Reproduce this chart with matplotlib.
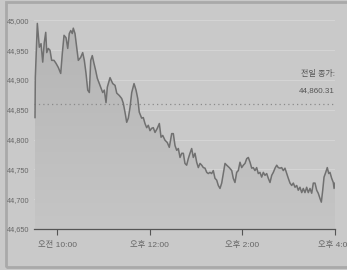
import matplotlib
matplotlib.use('Agg')
import matplotlib.pyplot as plt
from matplotlib import font_manager
import numpy as np
from matplotlib.colors import LinearSegmentedColormap
from matplotlib.patches import Polygon, Rectangle

# intraday index level, minutes after 9:30
minutes = [1.3, 1.7, 4.3, 6.9, 9.1, 11.3, 13.3, 15.2, 16.5, 18.5, 20.7, 22.9, 25.9,
           28.5, 31.5, 34.6, 36.7, 38.9, 41.5, 43.7, 45.7, 47.6, 49.6, 50.9, 53.1,
           55.3, 57.4, 60.5, 63.1, 65.2, 67.4, 69.6, 71.7, 73.5, 75.5, 77.7, 79.9,
           82.0, 85.5, 89.0, 91.1, 93.3, 95.0, 98.5, 102.0, 105.0, 107.2, 110.5,
           113.6, 115.7, 117.9, 120.1, 122.2, 124.4, 126.6, 129.6, 132.2, 134.4,
           136.4, 139.5, 141.6, 143.8, 146.0, 148.1, 150.3, 152.5, 154.6, 156.8,
           159.8, 162.4, 164.6, 166.8, 169.7, 172.7, 175.3, 178.4, 180.5, 182.7,
           184.9, 187.0, 189.2, 191.4, 193.5, 195.6, 197.8, 199.9, 202.1, 204.3,
           206.4, 208.6, 210.8, 212.9, 215.1, 217.3, 219.4, 221.6, 223.8, 225.8,
           228.0, 230.2, 232.3, 234.5, 236.7, 238.8, 241.0, 243.2, 245.3, 247.5,
           249.7, 253.0, 256.2, 258.2, 260.4, 262.6, 264.7, 266.9, 269.1, 271.2,
           273.4, 275.6, 277.7, 279.9, 282.1, 284.1, 286.3, 288.5, 290.6, 292.8,
           295.0, 297.1, 299.3, 301.5, 303.6, 305.8, 308.0, 310.1, 312.3, 314.5,
           316.5, 318.7, 320.9, 323.0, 325.2, 327.4, 329.5, 331.7, 333.9, 336.0,
           338.2, 340.4, 342.4, 344.6, 346.9, 348.9, 351.1, 353.3, 355.4, 357.6,
           359.8, 361.9, 364.1, 366.3, 368.3, 370.6, 372.3, 374.1, 375.8, 378.0,
           380.0, 381.9, 383.5, 385.7, 387.8, 388.8, 390.0]
prices = [44837, 44904, 44995, 44955, 44961, 44930, 44963, 44980, 44946, 44953, 44950,
          44933, 44933, 44928, 44921, 44911, 44945, 44975, 44971, 44953, 44978, 44983,
          44978, 44987, 44978, 44955, 44933, 44938, 44946, 44933, 44911, 44883, 44879,
          44933, 44941, 44928, 44916, 44903, 44891, 44879, 44883, 44862, 44888, 44904,
          44894, 44891, 44878, 44874, 44869, 44861, 44846, 44829, 44836, 44854, 44879,
          44894, 44883, 44869, 44846, 44836, 44837, 44827, 44820, 44824, 44815, 44819,
          44820, 44812, 44819, 44827, 44804, 44807, 44799, 44795, 44787, 44810, 44810,
          44790, 44782, 44785, 44770, 44777, 44777, 44760, 44757, 44768, 44777, 44785,
          44770, 44777, 44762, 44753, 44760, 44757, 44753, 44752, 44745, 44743, 44745,
          44743, 44748, 44735, 44732, 44723, 44718, 44727, 44743, 44760, 44757, 44753,
          44748, 44735, 44728, 44745, 44748, 44762, 44753, 44757, 44760, 44768, 44770,
          44762, 44752, 44753, 44748, 44753, 44743, 44745, 44737, 44745, 44740, 44743,
          44735, 44728, 44740, 44745, 44752, 44757, 44753, 44752, 44753, 44748, 44752,
          44743, 44735, 44727, 44723, 44727, 44720, 44723, 44715, 44720, 44711, 44718,
          44711, 44720, 44711, 44718, 44710, 44727, 44727, 44715, 44710, 44701, 44695,
          44715, 44737, 44745, 44753, 44743, 44745, 44735, 44728, 44718, 44727]
prev_close = 44860.31
yticks = [44650, 44700, 44750, 44800, 44850, 44900, 44950, 45000]
xticks = [30, 150, 270, 390]
xticklabels = ['오전 10:00', '오후 12:00', '오후 2:00', '오후 4:00']

# narrow latin font if one is installed, otherwise a smaller regular one
names = {f.name for f in font_manager.fontManager.ttflist}
narrow = [n for n in ['Liberation Sans Narrow', 'DejaVu Sans Condensed'] if n in names]
if narrow:
    latin, fs_y, fs_x, fs_t = narrow[0], 6.7, 6.7, 6.7
else:
    latin, fs_y, fs_x, fs_t = 'Liberation Sans', 5.3, 6.0, 5.8
plt.rcParams['font.family'] = [latin, 'Noto Sans CJK KR', 'DejaVu Sans']

bg = '#c9c9c9'
fig = plt.figure(figsize=(3.47, 2.70), dpi=100, facecolor=bg)
ax = fig.add_axes([0.098, 0.152, 0.8674, 0.8165], facecolor=bg)

ymin, ymax = 44650, 45020
t = np.array(minutes)
v = np.array(prices)

# gradient fill under the line
poly = Polygon(np.column_stack([np.r_[t[0], t, t[-1]], np.r_[ymin, v, ymin]]),
               closed=True, facecolor='none', edgecolor='none')
ax.add_patch(poly)
grad = np.linspace(1, 0, 256).reshape(-1, 1)
cmap = LinearSegmentedColormap.from_list('g', ['#c5c5c5', '#b5b5b5'])
im = ax.imshow(grad, extent=[0, 390, ymin, v.max()], aspect='auto', cmap=cmap,
               zorder=1, interpolation='bilinear')
im.set_clip_path(poly)

for y in yticks[1:]:
    ax.axhline(y, color='#d4d4d4', lw=0.8, zorder=0.5)

ax.plot(t, v, color='#707070', lw=1.1, zorder=3)
ax.axhline(prev_close, color='#8a8a8a', lw=0.9, ls=(0, (1, 2.5)), zorder=2)

ax.text(390, 44910, '전일 종가:', ha='right', va='center', fontsize=fs_t, color='#555555')
ax.text(390, 44882, f'{prev_close:,.2f}', ha='right', va='center', fontsize=fs_t,
        color='#555555')

ax.set_xlim(0, 390)
ax.set_ylim(ymin, ymax)
ax.set_yticks(yticks)
ax.set_yticklabels([f'{y:,}' for y in yticks])
ax.set_xticks(xticks)
ax.set_xticklabels(xticklabels)
ax.tick_params(axis='y', length=0, pad=3, labelsize=fs_y, labelcolor='#666666')
ax.tick_params(axis='x', length=4, width=0.8, color='#555555', pad=5,
               labelsize=fs_x, labelcolor='#666666')
for s in ['top', 'right', 'left']:
    ax.spines[s].set_visible(False)
ax.spines['bottom'].set_color('#555555')
ax.spines['bottom'].set_linewidth(0.9)

fig.patches.append(Rectangle((6 / 347, 3 / 270), 1.0, 265 / 270, transform=fig.transFigure,
                             fill=False, edgecolor='#a9a9a9', lw=2, zorder=-1))

fig.savefig('out.png', dpi=100, facecolor=bg)
